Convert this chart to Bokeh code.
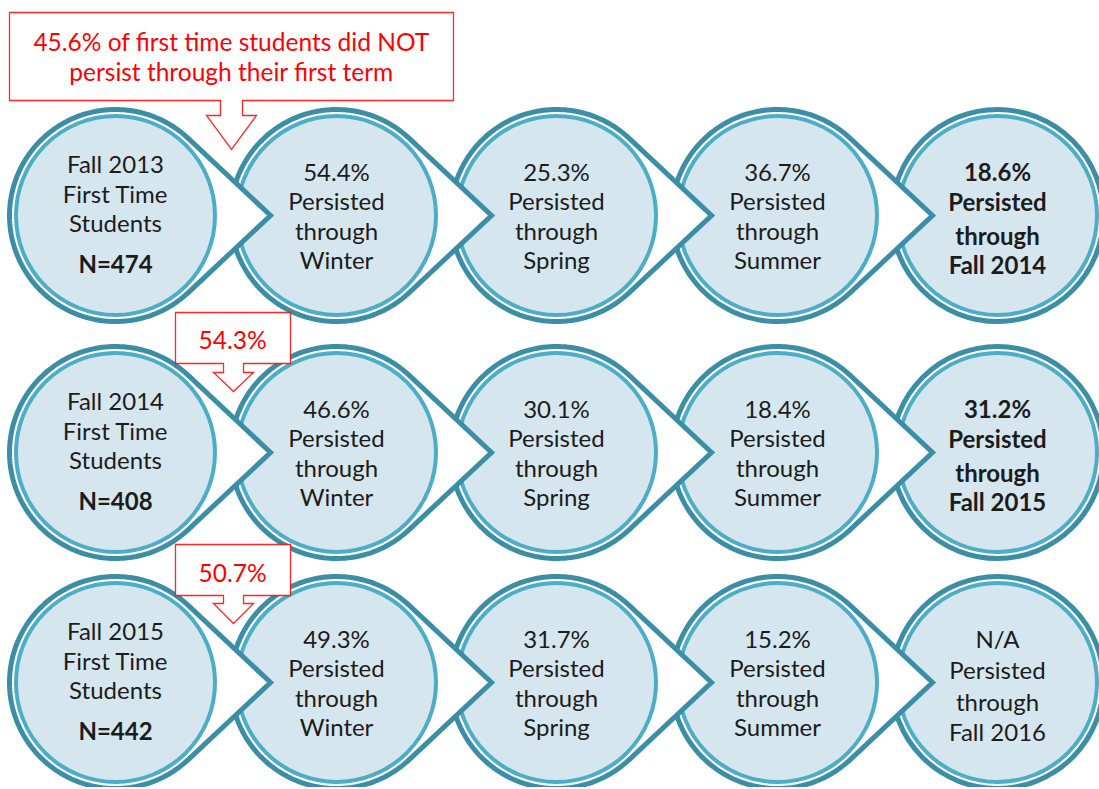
import numpy as np
from bokeh.plotting import figure
from bokeh.models import Range1d
from bokeh.core.properties import value
from bokeh.embed import file_html
from bokeh.resources import INLINE

# ---- data ----
cohorts = ["Fall 2013", "Fall 2014", "Fall 2015"]
n_students = [474, 408, 442]
winter = ["54.4%", "46.6%", "49.3%"]
spring = ["25.3%", "30.1%", "31.7%"]
summer = ["36.7%", "18.4%", "15.2%"]
next_fall = ["18.6%", "31.2%", "N/A"]
next_fall_term = ["Fall 2014", "Fall 2015", "Fall 2016"]
not_persist = ["45.6%", "54.3%", "50.7%"]
headline = "of first time students did NOT|persist through their first term"

# ---- layout / style ----
W, H = 1099, 787
FONT = "Lato"
DARK = "#3b8ea6"
MID = "#4cadc7"
FILL = "#d6e6ee"
TXT = "#1c1c1c"
RED = "#ff0000"

col_x = [115, 336, 556, 777, 997]
row_y = [215, 452, 682]
R_OUT = 106
TIP = 155

p = figure(width=W, height=H, x_range=Range1d(0, W), y_range=Range1d(H, 0),
           toolbar_location=None, output_backend="svg", min_border=0,
           x_axis_type=None, y_axis_type=None)
p.xgrid.visible = False
p.ygrid.visible = False
p.outline_line_color = None
p.background_fill_color = "white"

theta = np.arccos(R_OUT / TIP)
ang = np.linspace(theta, 2 * np.pi - theta, 160)

for r, cy in enumerate(row_y):
    for c in range(4, -1, -1):
        cx = col_x[c]
        if c < 4:
            xs = list(cx + R_OUT * np.cos(ang)) + [cx + TIP]
            ys = list(cy + R_OUT * np.sin(ang)) + [cy]
            p.patch(xs, ys, fill_color="white", line_color=DARK, line_width=5, line_join="miter")
        else:
            p.circle(x=[cx], y=[cy], radius=R_OUT, fill_color="white", line_color=DARK, line_width=5)
        p.circle(x=[cx], y=[cy], radius=R_OUT - 6.5, fill_color=FILL, line_color=MID, line_width=4)

# ---- texts ----
tx, ty, tt, tb = [], [], [], []
stage_vals = [winter, spring, summer]
stage_names = ["Winter", "Spring", "Summer"]
for r, cy in enumerate(row_y):
    lines = [cohorts[r], "First Time", "Students", f"N={n_students[r]}"]
    offs = [-52, -22, 7, 48]
    for k in range(4):
        tx.append(col_x[0]); ty.append(cy + offs[k]); tt.append(lines[k]); tb.append(k == 3)
    for s in range(3):
        lines = [stage_vals[s][r], "Persisted", "through", stage_names[s]]
        offs = [-44, -15, 15, 44]
        for k in range(4):
            tx.append(col_x[s + 1]); ty.append(cy + offs[k]); tt.append(lines[k]); tb.append(False)
    lines = [next_fall[r], "Persisted", "through", next_fall_term[r]]
    bold = next_fall[r] != "N/A"
    offs = [-44, -14, 20, 49] if bold else [-44, -13, 19, 49]
    for k in range(4):
        tx.append(col_x[4]); ty.append(cy + offs[k]); tt.append(lines[k]); tb.append(bold)

nx = [x for x, b in zip(tx, tb) if not b]
ny = [y for y, b in zip(ty, tb) if not b]
nt = [t for t, b in zip(tt, tb) if not b]
bx = [x for x, b in zip(tx, tb) if b]
by = [y for y, b in zip(ty, tb) if b]
bt = [t for t, b in zip(tt, tb) if b]
p.text(x=nx, y=ny, text=nt, text_font=value(FONT), text_font_size="24px", text_color=TXT,
       text_align="center", text_baseline="middle")
p.text(x=bx, y=by, text=bt, text_font=value(FONT), text_font_size="24px", text_color=TXT,
       text_font_style="bold", text_align="center", text_baseline="middle")

# ---- red callouts ----
def callout(x0, x1, y0, y1, sx0, sx1, hx0, hx1, hy, tipx, tipy):
    xs = [x0, x1, x1, sx1, sx1, hx1, tipx, hx0, sx0, sx0, x0]
    ys = [y0, y0, y1, y1, hy, hy, tipy, hy, hy, y1, y1]
    p.patch(xs, ys, fill_color="white", line_color=RED, line_width=1.3, line_alpha=0.85, line_join="miter")

callout(9, 453, 12, 100, 220, 242, 206, 256, 115, 231, 149)
callout(175, 290, 312, 363, 223, 243, 213, 253, 372, 233, 391)
callout(175, 290, 544, 595, 223, 243, 213, 253, 603, 233, 623)

h1, h2 = headline.split("|")
p.text(x=[231, 231, 232, 232], y=[41, 71, 339, 572],
       text=[f"{not_persist[0]} {h1}", h2, not_persist[1], not_persist[2]],
       text_font=value(FONT), text_font_size="24.5px", text_color=RED,
       text_align="center", text_baseline="middle")

open("out.html", "w").write(file_html(p, INLINE))
